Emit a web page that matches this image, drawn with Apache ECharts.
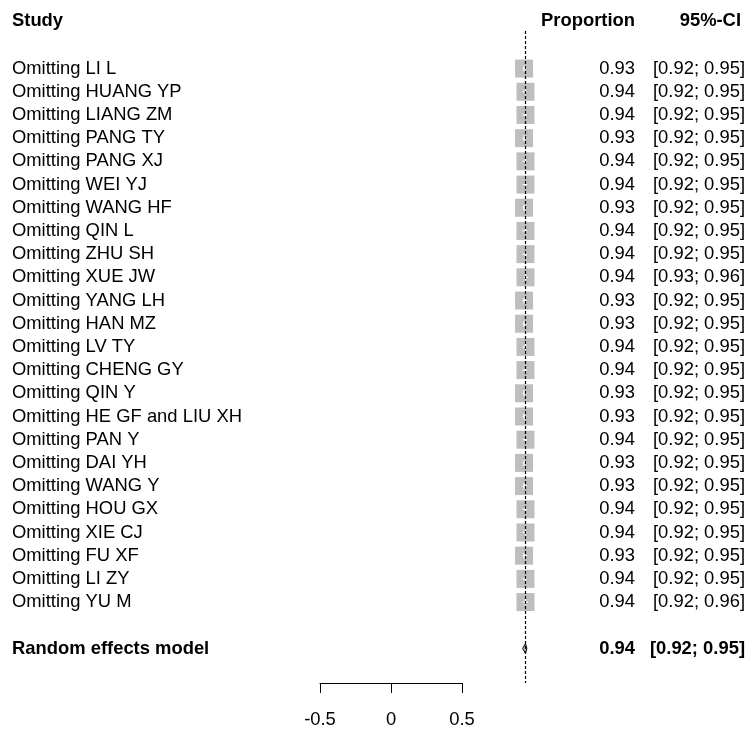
<!DOCTYPE html>
<html>
<head>
<meta charset="utf-8">
<script src="https://cdn.jsdelivr.net/npm/echarts@6/dist/echarts.min.js"></script>
<style>
  html, body { margin: 0; padding: 0; background: #fff; }
  #chart { width: 747px; height: 731px; }
</style>
</head>
<body>
<div id="chart"></div>
<script>
var studies = ['Omitting LI L', 'Omitting HUANG YP', 'Omitting LIANG ZM', 'Omitting PANG TY',
  'Omitting PANG XJ', 'Omitting WEI YJ', 'Omitting WANG HF', 'Omitting QIN L', 'Omitting ZHU SH',
  'Omitting XUE JW', 'Omitting YANG LH', 'Omitting HAN MZ', 'Omitting LV TY', 'Omitting CHENG GY',
  'Omitting QIN Y', 'Omitting HE GF and LIU XH', 'Omitting PAN Y', 'Omitting DAI YH',
  'Omitting WANG Y', 'Omitting HOU GX', 'Omitting XIE CJ', 'Omitting FU XF', 'Omitting LI ZY',
  'Omitting YU M'];
var proportion = [0.93, 0.94, 0.94, 0.93, 0.94, 0.94, 0.93, 0.94, 0.94, 0.94, 0.93, 0.93,
  0.94, 0.94, 0.93, 0.93, 0.94, 0.93, 0.93, 0.94, 0.94, 0.93, 0.94, 0.94];
var lower = [0.92, 0.92, 0.92, 0.92, 0.92, 0.92, 0.92, 0.92, 0.92, 0.93, 0.92, 0.92,
  0.92, 0.92, 0.92, 0.92, 0.92, 0.92, 0.92, 0.92, 0.92, 0.92, 0.92, 0.92];
var upper = [0.95, 0.95, 0.95, 0.95, 0.95, 0.95, 0.95, 0.95, 0.95, 0.96, 0.95, 0.95,
  0.95, 0.95, 0.95, 0.95, 0.95, 0.95, 0.95, 0.95, 0.95, 0.95, 0.95, 0.96];
var pooledLabel = 'Random effects model';
var pooled = [0.94, 0.92, 0.95];
var xTicks = [-0.5, 0, 0.5];

var FONT = '"Liberation Sans", Arial, sans-serif';
var FS = 18.4;
var SQ = 18;
var NAME_X = 12, PROP_X = 635, CI_X = 745;
var pooledRow = studies.length + 1;

function fmt(v) { return v.toFixed(2); }

var chart = echarts.init(document.getElementById('chart'), null, { renderer: 'canvas' });

var studyData = studies.map(function(s, i) {
  return [i, proportion[i], lower[i], upper[i]];
});

chart.setOption({
  animation: false,
  backgroundColor: '#fff',
  grid: [
    { left: 321, width: 213, top: 31, height: 652 },
    { left: 320, width: 142, top: 682, height: 1 }
  ],
  xAxis: [
    { gridIndex: 0, type: 'value', min: -0.5, max: 1.0, show: false },
    {
      gridIndex: 1, type: 'value', min: -0.5, max: 0.5, interval: 0.5,
      axisLine: { show: true, lineStyle: { color: '#000', width: 1 } },
      axisTick: { show: true, length: 10, lineStyle: { color: '#000', width: 1 } },
      axisLabel: {
        color: '#000', fontSize: FS, fontFamily: FONT, margin: 28,
        formatter: function(v) { return xTicks.indexOf(v) >= 0 ? String(v) : ''; }
      },
      splitLine: { show: false }
    }
  ],
  yAxis: [
    { gridIndex: 0, type: 'value', min: -1.62, max: 26.49, inverse: true, show: false },
    { gridIndex: 1, type: 'value', show: false }
  ],
  graphic: [
    { type: 'text', left: NAME_X, top: 12, style: { text: 'Study', font: 'bold ' + FS + 'px ' + FONT, fill: '#000' } },
    { type: 'text', right: 747 - PROP_X, top: 12, style: { text: 'Proportion', font: 'bold ' + FS + 'px ' + FONT, fill: '#000' } },
    { type: 'text', right: 6, top: 12, style: { text: '95%-CI', font: 'bold ' + FS + 'px ' + FONT, fill: '#000' } }
  ],
  series: [
    {
      type: 'custom',
      xAxisIndex: 0, yAxisIndex: 0,
      data: studyData,
      renderItem: function(params, api) {
        var row = api.value(0);
        var c = api.coord([api.value(1), row]);
        var lo = api.coord([api.value(2), row]);
        var hi = api.coord([api.value(3), row]);
        var i = params.dataIndex;
        return {
          type: 'group',
          children: [
            { type: 'rect', shape: { x: c[0] - SQ / 2, y: c[1] - SQ / 2, width: SQ, height: SQ },
              style: { fill: '#bebebe' } },
            { type: 'line', shape: { x1: lo[0], y1: c[1], x2: hi[0], y2: c[1] },
              style: { stroke: '#fff', lineWidth: 1.2 } },
            { type: 'line', shape: { x1: c[0], y1: c[1] - 3, x2: c[0], y2: c[1] + 3 },
              style: { stroke: '#fff', lineWidth: 1.2 } },
            { type: 'text', x: NAME_X, y: c[1],
              style: { text: studies[i], font: FS + 'px ' + FONT, fill: '#000', textAlign: 'left', textVerticalAlign: 'middle' } },
            { type: 'text', x: PROP_X, y: c[1],
              style: { text: fmt(proportion[i]), font: FS + 'px ' + FONT, fill: '#000', textAlign: 'right', textVerticalAlign: 'middle' } },
            { type: 'text', x: CI_X, y: c[1],
              style: { text: '[' + fmt(lower[i]) + '; ' + fmt(upper[i]) + ']', font: FS + 'px ' + FONT, fill: '#000', textAlign: 'right', textVerticalAlign: 'middle' } }
          ]
        };
      },
      markLine: {
        silent: true,
        symbol: 'none',
        label: { show: false },
        lineStyle: { color: '#000', type: [3, 2], width: 1.2 },
        data: [{ xAxis: pooled[0] }]
      }
    },
    {
      type: 'custom',
      xAxisIndex: 0, yAxisIndex: 0,
      data: [[pooledRow, pooled[0], pooled[1], pooled[2]]],
      renderItem: function(params, api) {
        var row = api.value(0);
        var c = api.coord([api.value(1), row]);
        var lo = api.coord([api.value(2), row]);
        var hi = api.coord([api.value(3), row]);
        return {
          type: 'group',
          children: [
            { type: 'polygon', shape: { points: [[lo[0], c[1]], [c[0], c[1] - 5], [hi[0], c[1]], [c[0], c[1] + 5]] },
              style: { fill: '#bebebe', stroke: '#000', lineWidth: 1 } },
            { type: 'text', x: NAME_X, y: c[1],
              style: { text: pooledLabel, font: 'bold ' + FS + 'px ' + FONT, fill: '#000', textAlign: 'left', textVerticalAlign: 'middle' } },
            { type: 'text', x: PROP_X, y: c[1],
              style: { text: fmt(pooled[0]), font: 'bold ' + FS + 'px ' + FONT, fill: '#000', textAlign: 'right', textVerticalAlign: 'middle' } },
            { type: 'text', x: CI_X, y: c[1],
              style: { text: '[' + fmt(pooled[1]) + '; ' + fmt(pooled[2]) + ']', font: 'bold ' + FS + 'px ' + FONT, fill: '#000', textAlign: 'right', textVerticalAlign: 'middle' } }
          ]
        };
      }
    }
  ]
});
</script>
</body>
</html>
